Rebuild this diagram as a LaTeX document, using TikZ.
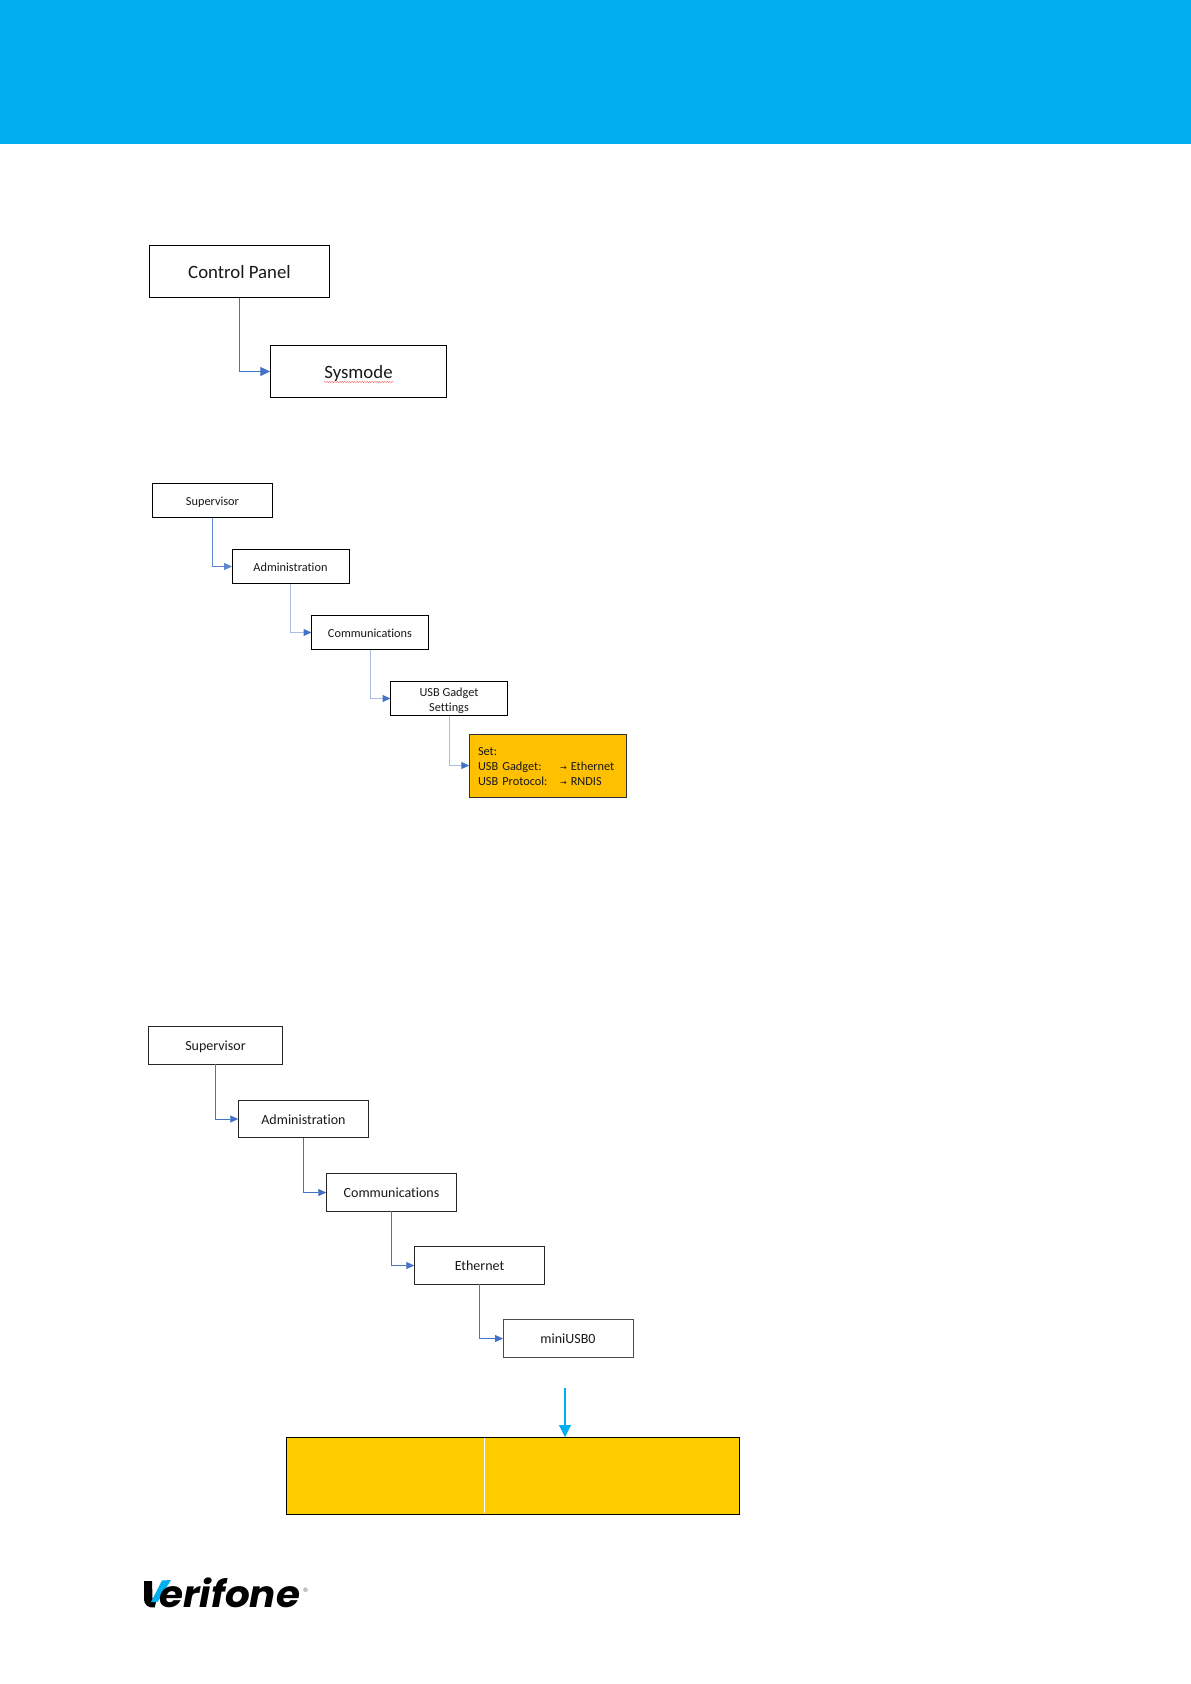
\documentclass[tikz,border=0pt]{standalone}
\usepackage{fontspec}
\setmainfont[Ligatures=NoCommon]{Carlito}
\newfontfamily\logofont{Poppins}
\newfontfamily\arrowfont{DejaVu Sans}
\usetikzlibrary{arrows.meta,decorations.pathmorphing}
\definecolor{headblue}{HTML}{00AEEF}
\definecolor{connblue}{HTML}{4472C4}
\definecolor{connlight}{HTML}{A9BEE3}
\definecolor{orangefill}{HTML}{FFC000}
\definecolor{yellowfill}{HTML}{FFCC00}
\tikzset{
  boxbase/.style={draw=black,fill=white,inner sep=0pt,outer sep=0pt,align=center,text=black!90},
  bigbox/.style={boxbase,line width=1.2pt,text height=13pt,text depth=0pt,font=\fontsize{18.8}{20}\selectfont},
  smallbox/.style={boxbase,line width=1pt,minimum width=117pt,minimum height=34.5pt,font=\fontsize{12.3}{15}\selectfont},
  oneline/.style={text height=9.6pt,text depth=0pt},
  midbox/.style={boxbase,oneline,line width=1pt,draw=black!85,minimum width=130.5pt,minimum height=37.5pt,text height=10.4pt,font=\fontsize{14}{15}\selectfont},
  conn/.style={draw=connblue,line width=0.9pt,-{Triangle[length=8pt,width=7pt]}},
  connbig/.style={draw=connblue,line width=1pt,-{Triangle[length=10pt,width=9pt]}},
  connpale/.style={draw=connlight,line width=1pt,-{Triangle[length=8pt,width=7pt,color=connblue,fill=connblue]}},
}
\begin{document}
\begin{tikzpicture}[x=1pt,y=-1pt]
\useasboundingbox (0,0) rectangle (1191,1684);
\fill[white] (0,0) rectangle (1191,1684);
\fill[headblue] (0,0) rectangle (1191,144);

% first group
\node[bigbox,minimum width=180.5pt,minimum height=52.5pt] (cp) at (239.5,271.5) {Control Panel};
\node[bigbox,minimum width=176.5pt,minimum height=52.5pt] (sys) at (358.5,371.5) {Sysmode};
\draw[connbig] (cp.south) |- (sys.west);
\coordinate (wavyA) at (324,382);
\coordinate (wavyB) at (394,382);
\draw[red!70!white,line width=0.4pt,decorate,decoration={snake,amplitude=0.5pt,segment length=2.5pt}] (wavyA) -- (wavyB);

% second group
\node[smallbox,oneline,minimum width=120.5pt] (s1) at (212.5,500.5) {Supervisor};
\node[smallbox,oneline] (a1) at (290.5,566.5) {Administration};
\node[smallbox,oneline] (c1) at (370,632.5) {Communications};
\node[smallbox,minimum height=34pt] (u1) at (449,698.5) {\rule{0pt}{13pt}USB Gadget\\Settings};
\node[boxbase,fill=orangefill,line width=1pt,draw=black!80,minimum width=157.5pt,minimum height=63pt,align=left,text width=140pt,font=\fontsize{12.3}{15}\selectfont] (o1) at (548,765.5)
  {\rule{0pt}{11pt}Set:\\\makebox[82pt][l]{USB Gadget:}{\arrowfont\fontsize{8}{15}\selectfont→}\,\,Ethernet\\\makebox[82pt][l]{USB Protocol:}{\arrowfont\fontsize{8}{15}\selectfont→}\,\,RNDIS};
\draw[conn,draw=connblue!85!white] (s1.south) |- (a1.west);
\draw[connpale] (a1.south) |- (c1.west);
\draw[connpale] (c1.south) |- (u1.west);
\draw[connpale] (u1.south) |- (o1.west);

% third group
\node[midbox,minimum width=133.5pt] (s2) at (215.5,1045.5) {Supervisor};
\node[midbox] (a2) at (303.5,1119) {Administration};
\node[midbox] (c2) at (391.5,1192.5) {Communications};
\node[midbox] (e2) at (479.5,1265.5) {Ethernet};
\node[midbox,minimum width=130pt,minimum height=38.5pt,draw=black!70] (m2) at (568,1338.5) {miniUSB0};
\draw[conn] (s2.south) |- (a2.west);
\draw[conn] (a2.south) |- (c2.west);
\draw[conn] (c2.south) |- (e2.west);
\draw[conn] (e2.south) |- (m2.west);

% yellow box and blue arrow
\node[boxbase,fill=yellowfill,line width=1pt,minimum width=453pt,minimum height=77pt] (y1) at (512.5,1475.5) {};
\coordinate (splitT) at (484.5,1438);
\coordinate (splitB) at (484.5,1513);
\draw[white,line width=0.8pt] (splitT) -- (splitB);
\coordinate (arrS) at (565,1388);
\draw[draw=headblue,line width=1.1pt,-{Triangle[length=12pt,width=12pt]}] (arrS) -- (arrS |- y1.north);

% logo
\fill[black] (144,1581) -- (152,1581) -- (152.5,1598) .. controls (152.5,1601) and (153.5,1602.5) .. (156,1602.5) -- (154.5,1607.5) .. controls (148,1608) and (144,1605) .. (144,1598) -- cycle;
\fill[headblue] (162,1580.5) -- (171,1580) -- (157.5,1602) -- (151,1602) -- cycle;
\node[anchor=base west,inner sep=0pt,xscale=1.05,transform shape,font=\logofont\bfseries\itshape\fontsize{37}{37}\selectfont,text=black] (logo) at (159,1607) {erifone};
\node[anchor=center,inner sep=0pt,font=\arrowfont\fontsize{6}{6}\selectfont,text=black!65] (reg) at (305.5,1590) {®};
\end{tikzpicture}
\end{document}
